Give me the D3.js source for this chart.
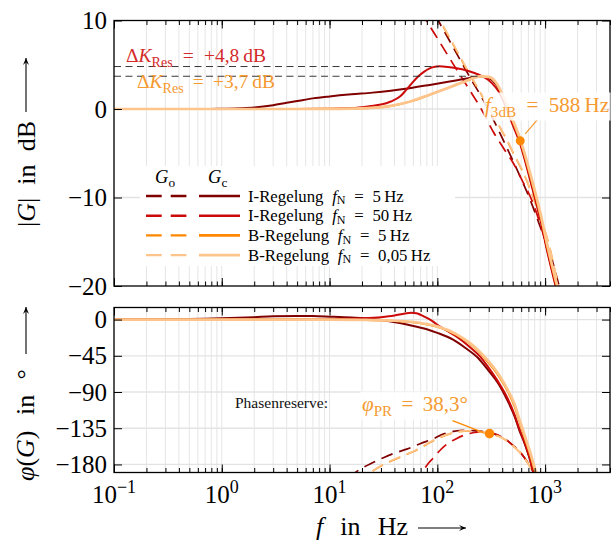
<!DOCTYPE html>
<html><head><meta charset="utf-8">
<script src="https://cdn.jsdelivr.net/npm/d3@7"></script>
<style>body{margin:0;background:#fff}svg{display:block}text{font-family:"Liberation Serif","Times New Roman",serif}</style>
</head><body><svg id="c" width="612" height="542"></svg>
<script>
// ---------- data ----------
const xMajor = [0.1, 1, 10, 100, 1000];
const xMajorExp = ["\u22121", "0", "1", "2", "3"];
const magTicks = [10, 0, -10, -20];
const phaseTicks = [0, -45, -90, -135, -180];

const seriesNames = ["I-Regelung", "I-Regelung", "B-Regelung", "B-Regelung"];
const seriesFN = ["5", "50", "5", "0,05"];
const seriesColors = ["#800000", "#cc0a0a", "#ff8800", "#fdc58c"];

// closed loop magnitude |Gc| in dB  [f in Hz, dB]
const magI5c = [[0.1,0],[0.7,0],[1,0.03],[1.5,0.08],[2,0.16],[3,0.42],[4,0.7],[5,0.9],[7,1.2],[10,1.42],[16,1.66],[25,1.85],[37,2.07],[55,2.35],[85,2.72],[130,3.1],[195,3.48],[250,3.68],[300,3.5],[350,2.8],[390,1.7],[440,0.2],[493,-1.4],[588,-3.8],[729,-7.9],[910,-12.5],[1060,-16.2],[1310,-20.8],[1500,-24]];
const magI50c = [[0.1,0],[5,0],[10,0.03],[16,0.1],[24,0.33],[30,0.5],[37,0.85],[45,1.4],[51,2.1],[58,2.9],[66,3.65],[75,4.2],[85,4.6],[95,4.78],[104,4.82],[125,4.75],[151,4.6],[194,4.3],[240,3.9],[270,3.6],[300,3.25],[350,2.4],[390,1.5],[440,0.0],[493,-1.6],[588,-4.0],[729,-8.1],[910,-12.7],[1060,-16.4],[1310,-21],[1500,-24]];
const magB5c = [[0.1,0],[5,0],[10,0.02],[16,0.04],[24,0.1],[37,0.34],[56,0.83],[85,1.6],[130,2.45],[180,3.1],[250,3.68],[300,3.6],[350,2.95],[390,1.9],[440,0.4],[493,-1.2],[588,-3.6],[729,-7.6],[910,-12.2],[1060,-15.9],[1310,-20.5],[1500,-23.5]];
const magB005c = [[0.1,0],[5,0],[10,0.02],[16,0.05],[24,0.12],[37,0.36],[56,0.85],[85,1.62],[130,2.45],[180,3.1],[250,3.68],[300,3.62],[350,3.0],[390,2.0],[440,0.55],[493,-1.0],[588,-3.4],[729,-7.3],[910,-11.9],[1060,-15.6],[1310,-20.2],[1500,-23]];

// open loop magnitude |Go| in dB
const magI5o = [[80,12.5],[102,10],[140,7.0],[200,3.6],[267,1],[350,-1.8],[450,-4.6],[580,-7.5],[729,-10.3],[900,-13.3],[1159,-17],[1350,-20],[1500,-22]];
const magI50o = [[60,13],[77.6,10.2],[100,8.0],[140,5.1],[193,2.4],[250,0.2],[331,-2.6],[420,-4.6],[506,-6.1],[620,-8.2],[752,-10.3],[900,-13],[1118,-17.1],[1300,-20.2],[1500,-22.5]];
const magB5o = [[80,13.2],[106,10],[140,7.3],[181,4.8],[233,2.5],[305,0],[370,-1.8],[441,-3.5],[527,-5.4],[627,-7.2],[750,-9.5],[902,-12.2],[1100,-15.6],[1290,-19.3],[1500,-22]];
const magB005o = [[80,13.3],[106,10.1],[140,7.4],[181,4.9],[233,2.55],[305,0.05],[370,-1.75],[441,-3.45],[527,-5.35],[627,-7.15],[750,-9.45],[902,-12.15],[1100,-15.55],[1290,-19.25],[1500,-22]];

// closed loop phase in degrees
const phI5c = [[0.1,0],[0.5,0.6],[1,1.5],[2,3],[3,4],[5,4.5],[7,4.3],[10,3.6],[16,2.5],[24,1],[37,-2.5],[56,-7],[80,-12],[100,-16.5],[140,-25],[181,-35],[240,-48],[297,-63],[370,-80],[449,-101],[520,-120],[578,-138],[650,-155],[720,-173],[780,-190],[850,-206]];
const phI50c = [[0.1,0],[5,0.1],[10,0.5],[20,1.5],[30,3],[40,5],[50,7.5],[57,8.5],[64,7.8],[71,5.5],[80,2],[90,-2],[100,-6.5],[120,-13],[150,-21],[200,-34],[250,-46],[300,-60],[370,-78],[449,-98],[520,-118],[578,-136],[650,-154],[720,-172],[775,-190],[850,-208]];
const phB5c = [[0.1,0],[10,0],[20,-0.5],[37,-1.5],[56,-3],[80,-6],[100,-9],[150,-19],[200,-30],[250,-42],[300,-54],[370,-70],[449,-89],[520,-108],[578,-127],[650,-148],[720,-166],[790,-185],[820,-192],[900,-210]];
const phB005c = [[0.1,0],[10,0],[20,-0.4],[37,-1.3],[56,-2.7],[80,-5.5],[100,-8.5],[150,-18],[200,-29],[250,-40.5],[300,-52],[370,-68],[449,-87],[520,-105],[578,-124],[650,-145],[720,-163],[800,-184],[840,-193],[900,-208]];

// open loop phase in degrees
const phI5o = [[15,-196],[19.2,-186],[25,-178],[31.6,-171.6],[40,-166],[52,-161],[70,-154],[92,-148],[115,-142],[141,-139],[180,-137.5],[217,-138],[260,-139],[305,-140.5],[370,-144],[441,-150],[520,-158],[631,-170],[700,-179],[777,-189],[850,-200]];
const phI50o = [[65,-205],[74,-188],[82,-179],[92,-171.7],[105,-163],[122,-155],[150,-148],[188,-142.5],[240,-140],[288,-140],[340,-142],[441,-150],[520,-158],[631,-170],[700,-179],[777,-189],[850,-200]];
const phB5o = [[18,-202],[24,-190],[30,-182],[37,-176],[47,-170],[60,-164],[75,-157],[92,-150.5],[115,-144.5],[141,-140.5],[180,-138.5],[217,-138.5],[260,-139.8],[305,-141.7],[370,-145],[441,-150.5],[520,-158.5],[631,-170.5],[700,-179.5],[777,-189.5],[850,-200]];
const phB005o = [[18,-201],[24,-189.5],[30,-181.5],[37,-175.5],[47,-169.5],[60,-163.5],[75,-156.5],[92,-150],[115,-144.2],[141,-140.3],[180,-138.4],[217,-138.5],[260,-139.8],[305,-141.7],[370,-145],[441,-150.5],[520,-158.5],[631,-170.5],[700,-179.5],[777,-189.5],[850,-200]];

const deltaK = [4.8, 3.7];          // dB
const deltaKEnd = [104, 250];       // Hz (peak positions)
const f3dB = [588, -3.6];           // Hz, dB
const phiPR = [305, -141.7];        // Hz, deg

// ---------- layout ----------
const svg = d3.select("#c");
const L = 114, R = 610;
const topP = {y0: 20.5, y1: 286};
const botP = {y0: 307.5, y1: 472.5};
const x = d3.scaleLog().domain([0.1, 4000]).range([L, R]);
const yM = d3.scaleLinear().domain([-20, 10]).range([topP.y1, topP.y0]);
const yP = d3.scaleLinear().domain([-190, 15]).range([botP.y1, botP.y0]);
const minorTicks = x.ticks();
const TH = "\u2009"; // thin space before units

function rich(g, px, py, parts, o) {
  const t = g.append("text").attr("x", px).attr("y", py).attr("font-size", o.size)
    .attr("fill", o.fill || "#000").attr("text-anchor", o.anchor || "start");
  if (o.transform) t.attr("transform", o.transform);
  let cur = 0;
  const drop = o.drop || 0.28;
  parts.forEach(p => {
    const ts = t.append("tspan").text(p.t);
    const target = p.sub ? o.size * drop : p.sup ? -o.size * 0.42 : 0;
    const dy = target - cur; cur = target;
    if (dy) ts.attr("dy", dy);
    if (p.dx) ts.attr("dx", p.dx);
    if (p.it) ts.attr("font-style", "italic");
    if (p.sub || p.sup) ts.attr("font-size", o.size * (p.scale || 0.72));
  });
  return t;
}
// widen the ordinary word gaps so the text spans the given width (LaTeX math spacing is wide)
function fit(t, width) {
  const w = t.node().getComputedTextLength();
  const n = (t.text().match(/ /g) || []).length;
  if (n) t.attr("word-spacing", (width - w) / n);
  return t;
}
function boxBehind(g, t, pad, op) {
  const b = t.node().getBBox();
  g.insert("rect", () => t.node()).attr("x", b.x - pad).attr("y", b.y - pad + 1)
    .attr("width", b.width + 2 * pad).attr("height", b.height + 2 * pad - 2)
    .attr("fill", "#fff").attr("fill-opacity", op);
}

function panel(p, y, yTicks, id) {
  const g = svg.append("g");
  g.append("g").selectAll("line").data(minorTicks).join("line")
    .attr("x1", d => x(d)).attr("x2", d => x(d)).attr("y1", p.y0).attr("y2", p.y1)
    .attr("stroke", "#e6e6e6").attr("stroke-width", 1);
  g.append("g").selectAll("line").data(yTicks).join("line")
    .attr("x1", L).attr("x2", R).attr("y1", d => y(d)).attr("y2", d => y(d))
    .attr("stroke", "#e3e3e3").attr("stroke-width", 1.3);
  svg.append("clipPath").attr("id", id).append("rect")
    .attr("x", L).attr("y", p.y0).attr("width", R - L).attr("height", p.y1 - p.y0);
  const curves = svg.append("g").attr("clip-path", `url(#${id})`);
  return {g, curves};
}
function frame(p, y, yTicks) {
  const g = svg.append("g");
  const h = p.y1 - p.y0;
  const axes = [
    [d3.axisBottom(x).tickValues(minorTicks).tickSize(-4.5), `translate(0,${p.y1})`],
    [d3.axisBottom(x).tickValues(xMajor).tickSize(-8), `translate(0,${p.y1})`],
    [d3.axisTop(x).tickValues(minorTicks).tickSize(-4.5), `translate(0,${p.y0})`],
    [d3.axisTop(x).tickValues(xMajor).tickSize(-8), `translate(0,${p.y0})`],
    [d3.axisRight(y).tickValues(yTicks).tickSize(-8), `translate(${R},0)`]
  ];
  axes.forEach(([ax, tr]) => {
    const a = g.append("g").attr("transform", tr).call(ax.tickFormat(""));
    a.select(".domain").remove();
    a.selectAll("line").attr("stroke", "#000").attr("stroke-width", 1);
  });
  const la = g.append("g").attr("transform", `translate(${L},0)`)
    .call(d3.axisLeft(y).tickValues(yTicks).tickSize(-8).tickPadding(7)
      .tickFormat(d => d < 0 ? "\u2212" + Math.abs(d) : String(d)));
  la.select(".domain").remove();
  la.selectAll("line").attr("stroke", "#000");
  la.selectAll("text").attr("font-family", "Liberation Serif").attr("font-size", 25).attr("fill", "#000");
  g.append("rect").attr("x", L).attr("y", p.y0).attr("width", R - L).attr("height", h)
    .attr("fill", "none").attr("stroke", "#000").attr("stroke-width", 1.3);
}

const line = (y) => d3.line().x(d => x(d[0])).y(d => y(d[1])).curve(d3.curveMonotoneX);
const widths = [2, 2, 2, 2.7];
function draw(g, data, y, i, dashed) {
  g.append("path").datum(data).attr("d", line(y)).attr("fill", "none")
    .attr("stroke", seriesColors[i]).attr("stroke-width", dashed ? 1.7 : widths[i])
    .attr("stroke-dasharray", dashed ? "12,7" : null);
}

// ---------- top panel ----------
const P1 = panel(topP, yM, [0, -10], "clipTop");
[magI5o, magI50o, magB5o, magB005o].forEach((d, i) => draw(P1.curves, d, yM, i, true));
[magI5c, magI50c, magB5c, magB005c].forEach((d, i) => draw(P1.curves, d, yM, i, false));
deltaK.forEach((v, i) => P1.curves.append("line").attr("x1", L).attr("x2", x(deltaKEnd[i]))
  .attr("y1", yM(v)).attr("y2", yM(v)).attr("stroke", "#222").attr("stroke-width", 0.9)
  .attr("stroke-dasharray", "7,4.5"));
frame(topP, yM, magTicks);

// ---------- bottom panel ----------
const P2 = panel(botP, yP, phaseTicks, "clipBot");
[phI5o, phI50o, phB5o, phB005o].forEach((d, i) => draw(P2.curves, d, yP, i, true));
[phI5c, phI50c, phB5c, phB005c].forEach((d, i) => draw(P2.curves, d, yP, i, false));
frame(botP, yP, phaseTicks);

// ---------- annotations ----------
const ann = svg.append("g");
const oText = "#f59a30";
let t = rich(ann, 126, 62, [{t:"\u0394"},{t:"K",it:true},{t:"Res",sub:true},{t:" = +4,8" + TH + "dB"}], {size:19.5, fill:"#d42a2a", drop:0.24});
fit(t, 140);
t = rich(ann, 137, 88, [{t:"\u0394"},{t:"K",it:true},{t:"Res",sub:true},{t:" = +3,7" + TH + "dB"}], {size:19.5, fill:oText, drop:0.24});
fit(t, 138);

const fx = x(f3dB[0]), fy = yM(f3dB[1]);
ann.append("line").attr("x1", fx + 5).attr("y1", fy - 7).attr("x2", fx + 17).attr("y2", fy - 21)
  .attr("stroke", oText).attr("stroke-width", 1.2);
ann.append("circle").attr("cx", fx).attr("cy", fy).attr("r", 4.5).attr("fill", "#ff8800");
t = rich(ann, 485, 112, [{t:"f",it:true},{t:"3dB",sub:true},{t:" = 588" + TH + "Hz"}], {size:21, fill:oText, drop:0.24});
fit(t, 124);
boxBehind(ann, t, 1.5, 0.85);

const px = x(phiPR[0]), py = yP(phiPR[1]);
ann.append("line").attr("x1", px - 37).attr("y1", py - 13).attr("x2", px - 6).attr("y2", py - 1)
  .attr("stroke", "#ff8800").attr("stroke-width", 1.2);
ann.append("circle").attr("cx", px).attr("cy", py).attr("r", 4.8).attr("fill", "#ff8800");
t = rich(ann, 362, 411, [{t:"\u03c6",it:true},{t:"PR",sub:true},{t:" = 38,3\u00b0"}], {size:21, fill:oText, drop:0.24});
fit(t, 106);
boxBehind(ann, t, 1.5, 0.85);
rich(ann, 235, 408, [{t:"Phasenreserve:"}], {size:15.5, fill:"#111"});

// ---------- legend ----------
const lg = svg.append("g");
lg.append("rect").attr("x", 140).attr("y", 166).attr("width", 315).attr("height", 100).attr("fill", "#fff");
rich(lg, 155, 183, [{t:"G",it:true},{t:"o",sub:true}], {size:18.5, drop:0.2});
rich(lg, 208, 183, [{t:"G",it:true},{t:"c",sub:true}], {size:18.5, drop:0.2});
seriesNames.forEach((n, i) => {
  const yy = 196 + i * 19.7;
  lg.append("line").attr("x1", 146).attr("x2", 187).attr("y1", yy).attr("y2", yy)
    .attr("stroke", seriesColors[i]).attr("stroke-width", 2.4).attr("stroke-dasharray", "15.7,9");
  lg.append("line").attr("x1", 199).attr("x2", 240).attr("y1", yy).attr("y2", yy)
    .attr("stroke", seriesColors[i]).attr("stroke-width", 2.6);
  const tt = rich(lg, 248, yy + 5.5, [{t:n + " "},{t:"f",it:true},{t:"N",sub:true},{t:" = " + seriesFN[i] + TH + "Hz"}], {size:16.8, drop:0.16});
  tt.attr("word-spacing", 4.5);
});

// ---------- axis titles ----------
function arrow(g, x1, y1, x2, y2) {
  g.append("line").attr("x1", x1).attr("y1", y1).attr("x2", x2).attr("y2", y2).attr("stroke", "#000").attr("stroke-width", 1.1);
  const a = Math.atan2(y2 - y1, x2 - x1), s = 7, w = 3;
  const p = [[x2, y2], [x2 - s * Math.cos(a) + w * Math.sin(a), y2 - s * Math.sin(a) - w * Math.cos(a)],
             [x2 - 0.6 * s * Math.cos(a), y2 - 0.6 * s * Math.sin(a)],
             [x2 - s * Math.cos(a) - w * Math.sin(a), y2 - s * Math.sin(a) + w * Math.cos(a)]];
  g.append("path").attr("d", "M" + p.map(q => q.join(",")).join("L") + "Z").attr("fill", "#000");
}
const ti = svg.append("g");
fit(rich(ti, 0, 0, [{t:"|"},{t:"G",it:true},{t:"| in dB"}], {size:26, transform:"translate(35,227) rotate(-90)"}), 106);
arrow(ti, 26, 112, 26, 58);
fit(rich(ti, 0, 0, [{t:"\u03c6",it:true},{t:"("},{t:"G",it:true},{t:") in \u00b0"}], {size:26, transform:"translate(34,481) rotate(-90)"}), 112);
arrow(ti, 26, 354, 26, 307);
fit(rich(ti, 316, 535, [{t:"f",it:true},{t:" in Hz"}], {size:26}), 92);
arrow(ti, 418, 528, 466, 528);

xMajor.forEach((v, i) => {
  rich(ti, x(v), 503, [{t:"10"},{t:xMajorExp[i],sup:true,scale:0.72}], {size:25, anchor:"middle"});
});
</script></body></html>
